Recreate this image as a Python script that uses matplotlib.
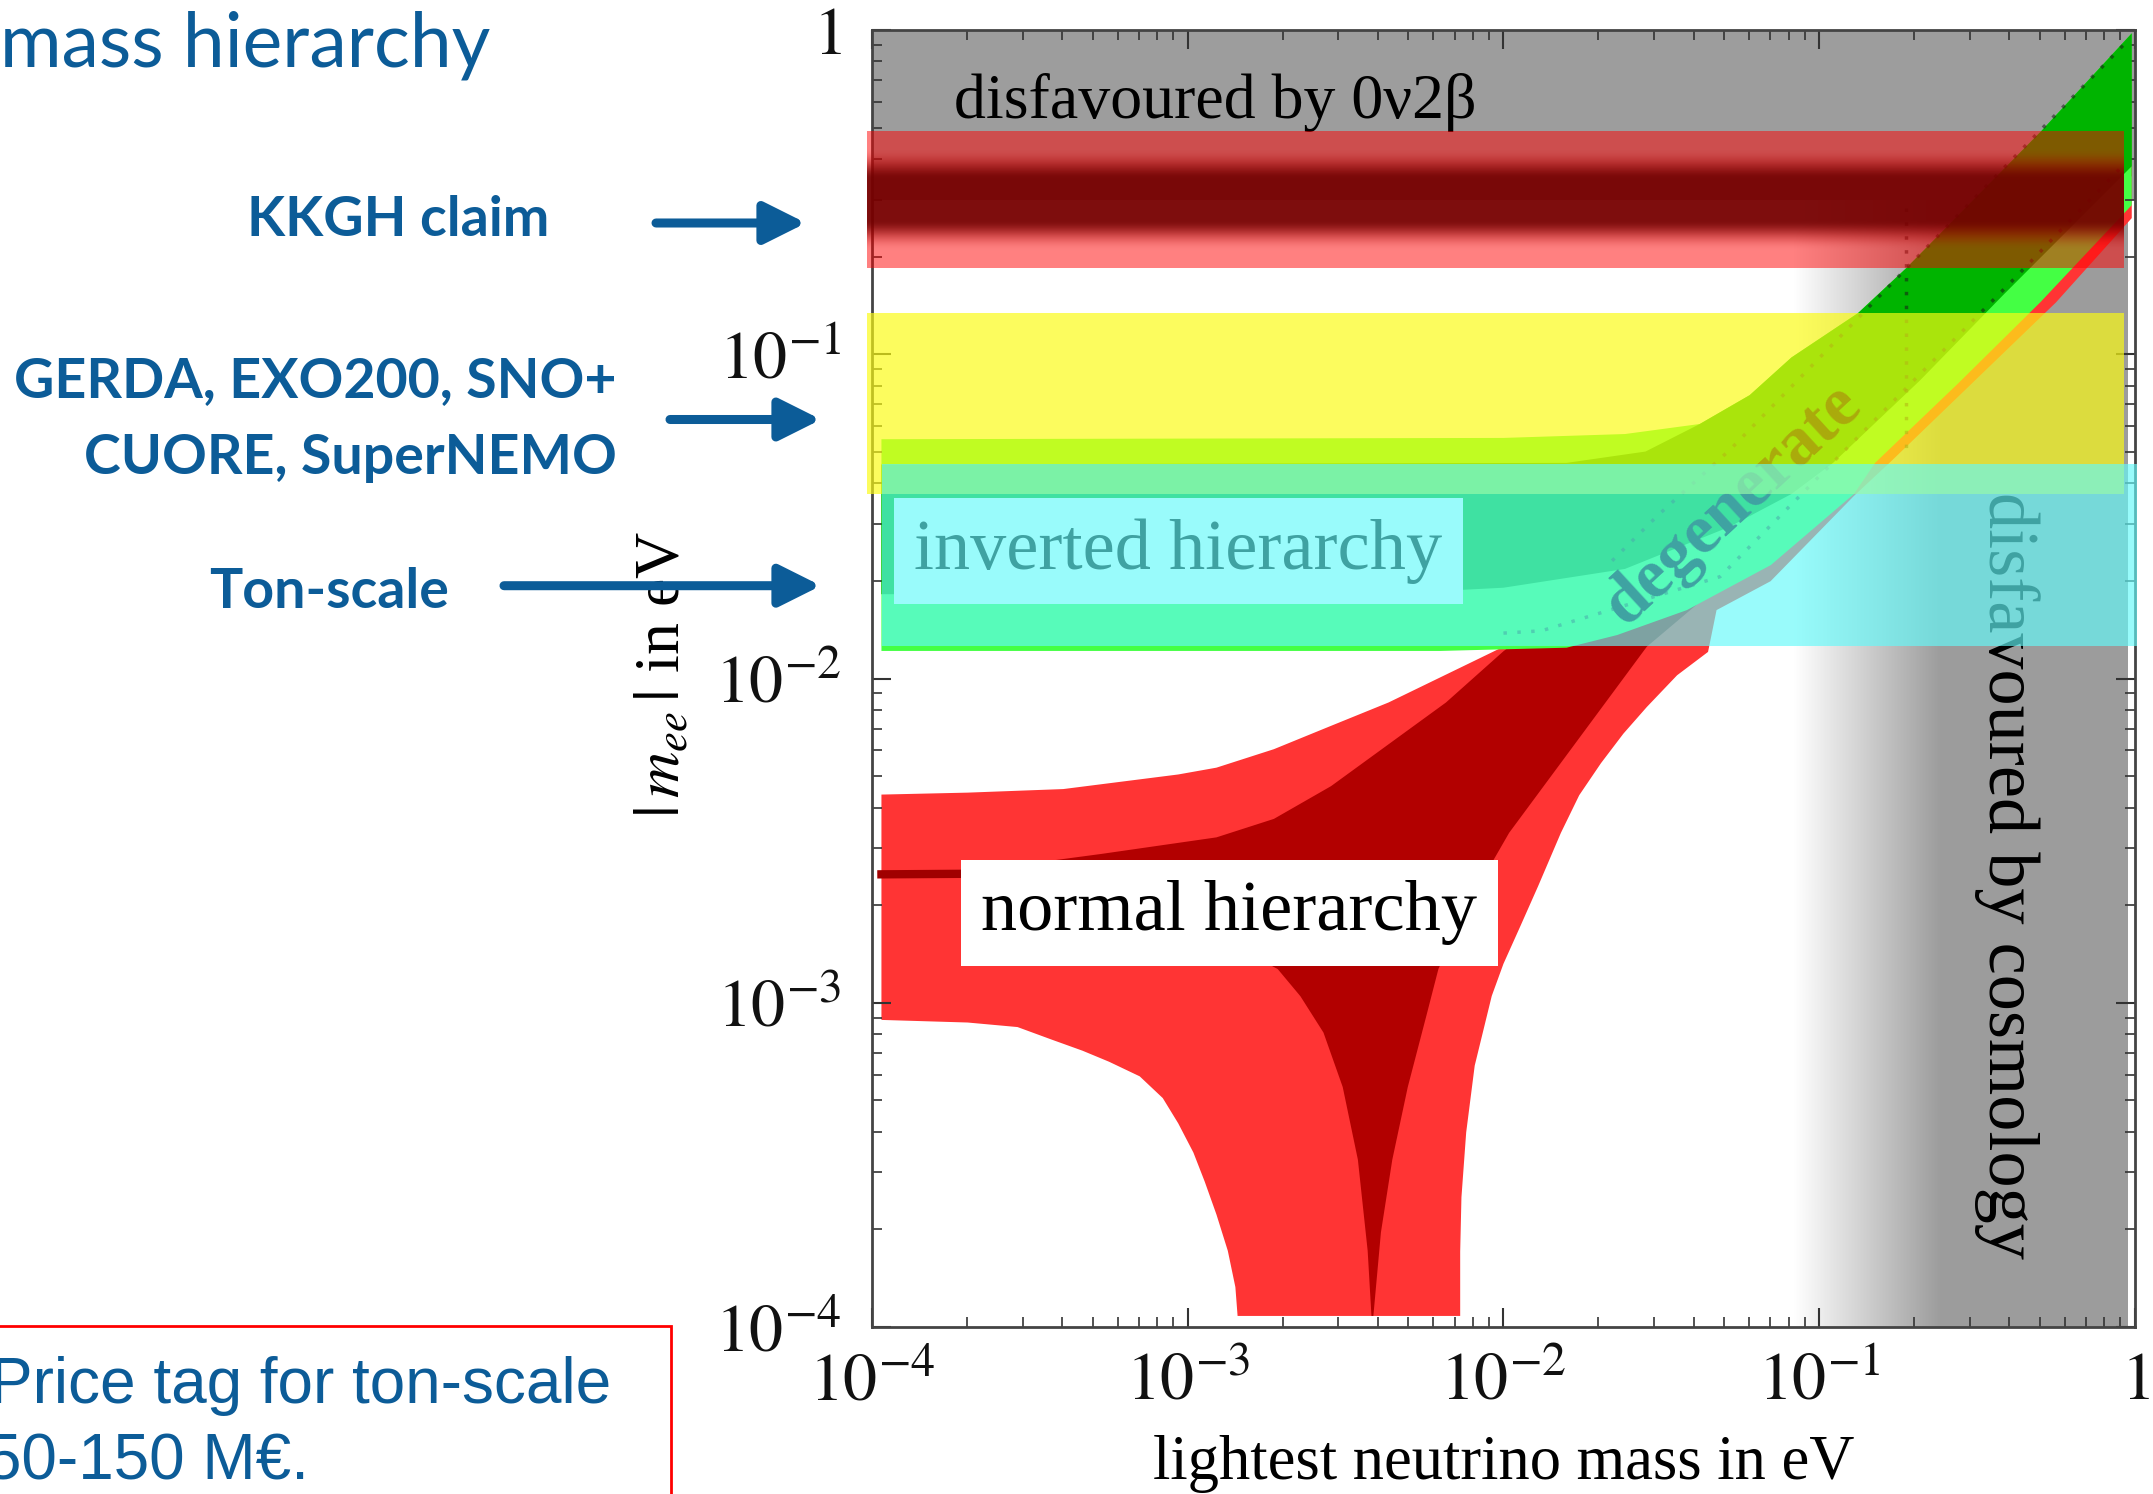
import numpy as np
import matplotlib
matplotlib.use('Agg')
import matplotlib.pyplot as plt
from matplotlib.patches import FancyArrowPatch, Rectangle

plt.rcParams['font.family'] = ['Liberation Serif', 'DejaVu Serif']
plt.rcParams['mathtext.fontset'] = 'stix'

# ---- values (log10 of eV) ----
# normal hierarchy, wide (3 sigma) region outline: lightest mass / |m_ee|
nh_outer_lx = [-3.97, -3.697, -3.394, -3.03, -2.909, -2.727, -2.546, -2.364, -2.182, -2.0, -1.5, -1.0, -0.5, -0.01,
               -0.01, -0.25, -0.771, -0.89, -1.154, -1.325, -1.352, -1.45, -1.546, -1.62, -1.691, -1.76, -1.818,
               -1.89, -1.946, -2.0, -2.037, -2.091, -2.118, -2.133, -2.137, -2.137,
               -2.842, -2.849, -2.873, -2.909, -2.946, -2.982, -3.030, -3.079, -3.152, -3.249, -3.333,
               -3.430, -3.539, -3.697, -3.97]
nh_outer_ly = [-2.358, -2.352, -2.341, -2.296, -2.275, -2.218, -2.146, -2.074, -1.988, -1.902, -1.55, -1.10, -0.60, -0.10,
               -0.58, -0.84, -1.329, -1.437, -1.70, -1.789, -1.918, -1.99, -2.088, -2.17, -2.261, -2.36, -2.476,
               -2.64, -2.763, -2.88, -2.979, -3.194, -3.40, -3.60, -3.768, -3.966,
               -3.966, -3.877, -3.765, -3.653, -3.552, -3.462, -3.372, -3.294, -3.227, -3.182, -3.148,
               -3.114, -3.075, -3.061, -3.053]
# normal hierarchy, best-fit region
nh_inner_lx = [-3.727, -3.273, -2.909, -2.727, -2.546, -2.364, -2.182, -2.0, -1.6, -1.0, -0.5, -0.01,
               -0.01, -0.5, -1.0, -1.3, -1.546, -1.764, -1.982, -2.109, -2.206, -2.243, -2.303, -2.352, -2.388,
               -2.412, -2.418, -2.43, -2.461, -2.509, -2.57, -2.643, -2.715, -3.0, -3.4]
nh_inner_ly = [-2.60, -2.541, -2.490, -2.433, -2.332, -2.203, -2.074, -1.916, -1.62, -1.13, -0.65, -0.17,
               -0.45, -0.95, -1.45, -1.70, -1.902, -2.189, -2.476, -2.691, -2.896, -3.036, -3.26, -3.484, -3.708,
               -3.966, -3.966, -3.765, -3.484, -3.26, -3.092, -2.98, -2.896, -2.75, -2.64]
nh_line_lx = [-3.97, -3.65]
nh_line_ly = [-2.604, -2.602]

# inverted hierarchy
ih_outer_lx = [-3.97, -2.0, -1.615, -1.378, -1.22, -1.088, -0.877, -0.725, -0.298, -0.01,
               -0.01, -0.30, -0.56, -0.823, -0.89, -1.153, -1.419, -1.64, -1.80, -2.2, -3.97]
ih_outer_ly = [-1.262, -1.258, -1.246, -1.215, -1.126, -1.01, -0.873, -0.735, -0.313, -0.01,
               -0.54, -0.84, -1.09, -1.335, -1.431, -1.65, -1.789, -1.866, -1.905, -1.915, -1.915]
ih_inner_lx = [-3.97, -1.8, -1.55, -1.378, -1.22, -1.088, -0.877, -0.725, -0.298, -0.01,
               -0.01, -0.42, -0.68, -0.956, -1.088, -1.286, -1.615, -2.0, -2.4, -3.97]
ih_inner_ly = [-1.34, -1.335, -1.30, -1.215, -1.126, -1.01, -0.873, -0.735, -0.313, -0.01,
               -0.42, -0.82, -1.08, -1.335, -1.431, -1.533, -1.662, -1.72, -1.74, -1.74]

# dotted best-fit lines in the degenerate band
bf_a_lx = [-2.0, -1.88, -1.314, -0.376, -0.05]
bf_a_ly = [-1.86, -1.853, -1.686, -0.761, -0.43]
bf_b_lx = [-1.656, -1.51, -1.283, -0.934, -0.30, -0.02]
bf_b_ly = [-1.637, -1.496, -1.295, -0.946, -0.31, -0.03]
cosmo_line_lx = [-0.725, -0.725]
cosmo_line_ly = [-0.55, -1.30]

# excluded regions and experiment sensitivity bands (eV)
bb0v_limit = 0.30
cosmo_fade = (0.083, 0.24)
cosmo_end = 0.944
kkgh_band = (0.184, 0.486)
current_band = (0.037, 0.134)
tonscale_band = (0.0126, 0.046)

tick_vals = [1e-4, 1e-3, 1e-2, 1e-1, 1]
tick_labels = [r'$10^{-4}$', r'$10^{-3}$', r'$10^{-2}$', r'$10^{-1}$', r'$1$']

blue = '#0c5c98'
grey = np.array([0.615, 0.615, 0.615])


def main():
    fig = plt.figure(figsize=(21.53, 14.94), dpi=100)
    ax = fig.add_axes([0.4050, 0.1118, 0.5866, 0.8681])
    ax.set_xscale('log')
    ax.set_yscale('log')
    ax.set_xlim(1e-4, 1)
    ax.set_ylim(1e-4, 1)
    ax.set_autoscale_on(False)

    to_axes = ax.transData + ax.transAxes.inverted()

    # cosmology: white -> grey fade on the right
    c0 = to_axes.transform((cosmo_fade[0], 1e-2))[0]
    c1 = to_axes.transform((cosmo_fade[1], 1e-2))[0]
    c2 = to_axes.transform((cosmo_end, 1e-2))[0]
    p = np.linspace(c0, c2, 400)
    w = np.clip((p - c0) / (c1 - c0), 0, 1)
    rgb = np.ones(3)[None, :] * (1 - w[:, None]) + grey[None, :] * w[:, None]
    ax.imshow(rgb[None, :, :], extent=(c0, c2, 0, 1), transform=ax.transAxes,
              aspect='auto', interpolation='bilinear', zorder=0.5)

    # 0v2b excluded region
    ax.axhspan(bb0v_limit, 1, color=grey, lw=0, zorder=0.6)

    # normal hierarchy
    ax.fill(10 ** np.array(nh_outer_lx), 10 ** np.array(nh_outer_ly), color='#ff3434', lw=0, zorder=1)
    ax.fill(10 ** np.array(nh_inner_lx), 10 ** np.array(nh_inner_ly), color='#b20000', lw=0, zorder=1.1)
    ax.plot(10 ** np.array(nh_line_lx), 10 ** np.array(nh_line_ly), color='#a00000', lw=6, zorder=1.2)

    # inverted hierarchy
    ax.fill(10 ** np.array(ih_outer_lx), 10 ** np.array(ih_outer_ly), color='#44ff44', lw=0, zorder=1.5)
    ax.fill(10 ** np.array(ih_inner_lx), 10 ** np.array(ih_inner_ly), color='#00b400', lw=0, zorder=1.6)

    dot = dict(color='#1a1a1a', lw=2.5, ls=(0, (1, 3)), alpha=0.55, zorder=2)
    ax.plot(10 ** np.array(bf_a_lx), 10 ** np.array(bf_a_ly), **dot)
    ax.plot(10 ** np.array(bf_b_lx), 10 ** np.array(bf_b_ly), **dot)
    ax.plot(10 ** np.array(cosmo_line_lx), 10 ** np.array(cosmo_line_ly), **dot)

    # labels inside the plot
    ax.text(10 ** -3.74, 10 ** -0.225, 'disfavoured by 0ν2β', fontsize=46,
            ha='left', va='center', zorder=3)
    ax.text(10 ** -2.868, 10 ** -2.723, 'normal hierarchy', fontsize=52, ha='center', va='center',
            zorder=3, bbox=dict(boxstyle='square,pad=0.28', fc='white', ec='none'))
    ax.text(10 ** -3.029, 10 ** -1.607, 'inverted hierarchy', fontsize=52, ha='center', va='center',
            zorder=3, bbox=dict(boxstyle='square,pad=0.28', fc='white', ec='none'))
    ax.text(10 ** -1.273, 10 ** -1.465, 'degenerate', fontsize=50, fontweight='bold',
            rotation=42.6, rotation_mode='anchor', ha='center', va='center', zorder=3)
    ax.text(10 ** -0.405, 10 ** -2.606, 'disfavoured by cosmology', fontsize=52,
            rotation=270, ha='center', va='center', zorder=3)

    # experiment bands laid over the plot
    _, k0 = to_axes.transform((1e-2, kkgh_band[0]))
    _, k1 = to_axes.transform((1e-2, kkgh_band[1]))
    t = np.linspace(-1, 1, 300)
    d = np.clip((0.75 - np.abs(t)) / 0.45, 0, 1)
    d = d * d * (3 - 2 * d)
    edge = np.array([1.0, 0.0, 0.0, 0.5])
    core = np.array([0.47, 0.0, 0.0, 0.95])
    rgba = edge[None, :] * (1 - d[:, None]) + core[None, :] * d[:, None]
    ax.imshow(rgba[:, None, :], origin='lower', extent=(-0.004, 0.991, k0, k1),
              transform=ax.transAxes, aspect='auto', interpolation='bilinear',
              clip_on=False, zorder=10)

    ax.axhspan(*current_band, xmin=-0.004, xmax=0.991, color=(0.988, 0.988, 0.07),
               alpha=0.68, lw=0, zorder=11, clip_on=False)
    ax.axhspan(*tonscale_band, xmin=0.008, xmax=1.002, color=(0.384, 0.98, 0.98),
               alpha=0.65, lw=0, zorder=12, clip_on=False)

    # axes cosmetics
    ax.set_xticks(tick_vals, labels=tick_labels)
    ax.set_yticks(tick_vals, labels=tick_labels)
    ax.tick_params(which='both', direction='in', top=True, right=True, colors='#333333',
                   labelcolor='#111111')
    ax.tick_params(which='major', length=14, width=1.5, labelsize=49, pad=18)
    ax.tick_params(axis='y', which='major', pad=22)
    ax.tick_params(which='minor', length=7, width=1.2)
    for s in ax.spines.values():
        s.set_color('#444444')
        s.set_linewidth(2)
    ax.set_xlabel('lightest neutrino mass in eV', fontsize=45)
    ax.xaxis.set_label_coords(0.5, -0.083)
    ax.set_ylabel(r'$|\,m_{ee}\,|$ in eV', fontsize=46)
    ax.yaxis.set_label_coords(-0.142, 0.503)

    # slide annotations
    fig.text(0.0, 1 - 66 / 1494, 'mass hierarchy', fontsize=54, family='Lato',
             color=blue, ha='left', va='baseline')
    lab = dict(fontsize=40, family='Lato', fontweight='bold', color=blue, va='baseline')
    fig.text(549 / 2153, 1 - 236 / 1494, 'KKGH claim', ha='right', **lab)
    fig.text(617 / 2153, 1 - 397 / 1494, 'GERDA, EXO200, SNO+', ha='right', **lab)
    fig.text(617 / 2153, 1 - 474 / 1494, 'CUORE, SuperNEMO', ha='right', **lab)
    fig.text(449 / 2153, 1 - 608 / 1494, 'Ton-scale', ha='right', **lab)

    for (xa, xb, yy) in [(656, 806, 223), (670, 821, 419.5), (504, 821, 585.7)]:
        arr = FancyArrowPatch((xa / 2153, 1 - yy / 1494), (xb / 2153, 1 - yy / 1494),
                              transform=fig.transFigure,
                              arrowstyle='-|>,head_length=0.9,head_width=0.45',
                              mutation_scale=28, lw=6.5, color=blue,
                              shrinkA=0, shrinkB=0)
        fig.add_artist(arr)

    fig.add_artist(Rectangle((-0.01, -0.05), 671 / 2153 + 0.01, 0.05 + 1 - 1326 / 1494,
                             transform=fig.transFigure, fill=False, ec='red', lw=2))
    price = dict(fontsize=46, family='Liberation Sans', color=blue, ha='left', va='baseline')
    fig.text(-10 / 2153, 1 - 1403 / 1494, 'Price tag for ton-scale', **price)
    fig.text(-14 / 2153, 1 - 1480 / 1494, '50-150 M€.', **price)

    fig.savefig('out.png', dpi=100)
    plt.close(fig)


if __name__ == '__main__':
    main()
